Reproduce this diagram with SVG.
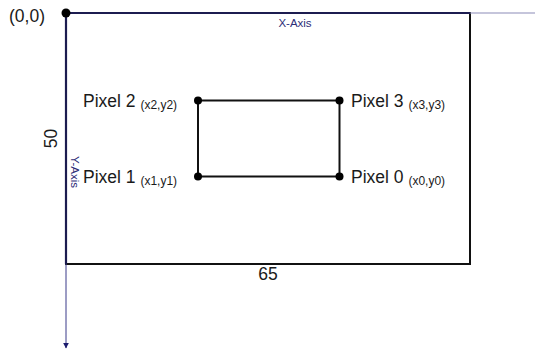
<svg xmlns="http://www.w3.org/2000/svg" width="535" height="354" viewBox="0 0 535 354">
  <style>
    text { font-family: "Liberation Sans", Arial, sans-serif; fill: #1a1a1a; }
    .lbl { font-size: 17.5px; }
    .sub { font-size: 12px; }
    .axis-lbl { font-size: 11.5px; fill: #2e2e78; }
    .frame { fill: none; stroke: #111; stroke-width: 2; }
    .edge { stroke: #111; stroke-width: 2; fill: none; }
    .dot { fill: #000; }
  </style>
  <defs>
    <marker id="arrow" viewBox="0 0 10 10" refX="9" refY="5" markerWidth="6" markerHeight="6" orient="auto">
      <path d="M0,0 L10,5 L0,10 z" fill="#1c1c6e"/>
    </marker>
  </defs>

  <rect width="535" height="354" fill="#fff"/>

  <!-- image frame 65 x 50 -->
  <g id="frame">
    <rect class="frame" x="66" y="13" width="404" height="251"/>
    <text class="lbl" x="268" y="280" text-anchor="middle">65</text>
    <text class="lbl" transform="translate(57,138.5) rotate(-90)" text-anchor="middle">50</text>
  </g>

  <!-- coordinate axes -->
  <g id="axes">
    <line x1="470" y1="13" x2="535" y2="13" stroke="#8c8cb8" stroke-width="1.2"/>
    <line x1="66" y1="13" x2="470" y2="13" stroke="#1c1c50" stroke-width="2.2"/>
    <line x1="66" y1="13" x2="66" y2="264" stroke="#1c1c50" stroke-width="2.2"/>
    <line x1="66" y1="264" x2="66" y2="348" stroke="#3a3a8a" stroke-width="1" marker-end="url(#arrow)"/>
    <text class="axis-lbl" x="295" y="27" text-anchor="middle">X-Axis</text>
    <text class="axis-lbl" transform="translate(71,172) rotate(90)" text-anchor="middle">Y-Axis</text>
  </g>

  <g id="origin">
    <circle class="dot" cx="66" cy="13" r="4.5"/>
    <text class="lbl" x="9" y="22">(0,0)</text>
  </g>

  <!-- edges between the four pixels -->
  <g id="connectors">
    <line class="edge" x1="198" y1="100.5" x2="339.5" y2="100.5"/>
    <line class="edge" x1="339.5" y1="100.5" x2="339.5" y2="176.5"/>
    <line class="edge" x1="339.5" y1="176.5" x2="198" y2="176.5"/>
    <line class="edge" x1="198" y1="176.5" x2="198" y2="100.5"/>
  </g>

  <g id="pixel2">
    <circle class="dot" cx="198" cy="100.5" r="4"/>
    <text x="83" y="107"><tspan class="lbl">Pixel 2 </tspan><tspan class="sub" dy="2">(x2,y2)</tspan></text>
  </g>
  <g id="pixel3">
    <circle class="dot" cx="339.5" cy="100.5" r="4"/>
    <text x="351" y="107"><tspan class="lbl">Pixel 3 </tspan><tspan class="sub" dy="2">(x3,y3)</tspan></text>
  </g>
  <g id="pixel1">
    <circle class="dot" cx="198" cy="176.5" r="4"/>
    <text x="83" y="183"><tspan class="lbl">Pixel 1 </tspan><tspan class="sub" dy="2">(x1,y1)</tspan></text>
  </g>
  <g id="pixel0">
    <circle class="dot" cx="339.5" cy="176.5" r="4"/>
    <text x="351" y="183"><tspan class="lbl">Pixel 0 </tspan><tspan class="sub" dy="2">(x0,y0)</tspan></text>
  </g>
</svg>
